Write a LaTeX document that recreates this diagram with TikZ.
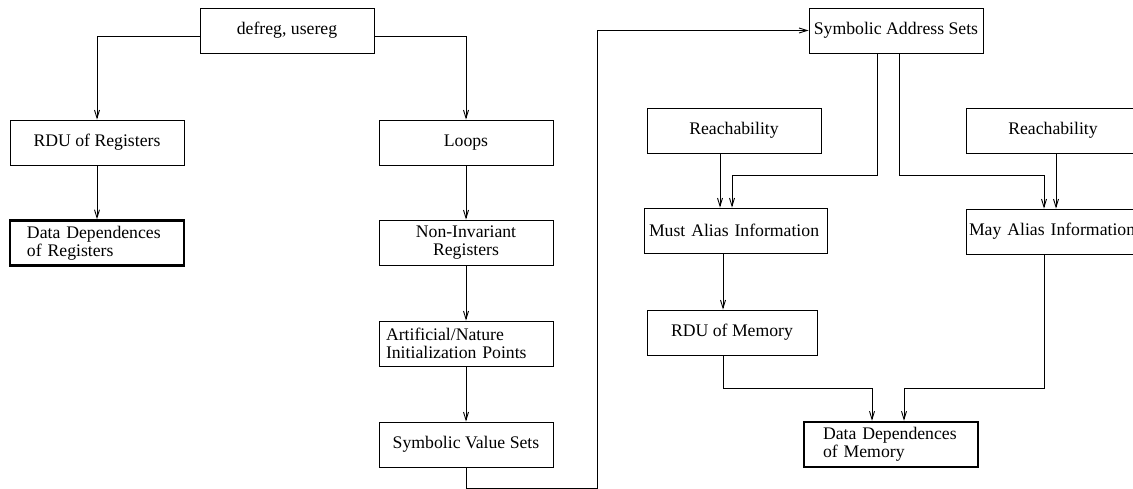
\documentclass[tikz,border=0pt]{standalone}
\usepackage{fontspec}
\setmainfont{Liberation Serif}
\usetikzlibrary{arrows.meta}
\tikzset{every picture/.style={line width=0.9pt}}

\begin{document}
\begin{tikzpicture}[x=1pt,y=1pt,yscale=-1,xscale=1,
  box/.style={draw, minimum width=174, minimum height=45, inner sep=0.75pt, align=center, font=\fontsize{17.7}{17.7}\selectfont},
  leftbox/.style={box, align=left, text width=#1},
  heavy/.style={line width=2.5pt},
  arr/.style={-{Straight Barb[length=8pt,width=5pt]}}]
\useasboundingbox (0,0) rectangle (1133,489);

%Shape: Rectangles, register side
\node [box] (defreg) at (287,30.5) {defreg, usereg};
\node [box] (rduReg) at (97,142.5) {RDU of Registers};
\node [leftbox=140, inner xsep=17, heavy] (ddReg) at (97,243) {Data Dependences\\of Registers};
\node [box] (loops) at (466,142.5) {Loops};
\node [box] (nonInv) at (466,242.5) {Non-Invariant\\Registers};
\node [leftbox=160, inner xsep=7] (initPts) at (466,343.5) {Artificial/Nature\\Initialization Points};
\node [box] (valSets) at (466,444.5) {Symbolic Value Sets};

%Shape: Rectangles, memory side
\node [box] (addrSets) at (896,30.5) {Symbolic Address Sets};
\node [box] (reachA) at (734,130.5) {Reachability};
\node [leftbox=173, inner xsep=5] (mustAlias) at (735.5,230.5) {Must Alias Information};
\node [box] (reachB) at (1053,130.5) {Reachability};
\node [leftbox=177, inner xsep=3] (mayAlias) at (1057.5,231.5) {May Alias Information};
\node [box, minimum width=170] (rduMem) at (732,332.5) {RDU of Memory};
\node [leftbox=136, inner xsep=18, heavy] (ddMem) at (891,444.5) {Data Dependences\\of Memory};

%Bend points
\coordinate (loopBack) at (597,488);
\coordinate (mustBend) at (732,175);
\coordinate (mayBend) at (1044,175);
\coordinate (memJoin) at (0,388);
\coordinate (reachAOut) at ([xshift=-14pt]reachA.south);
\coordinate (memIn) at ([xshift=-9pt]rduMem.north);
\coordinate (ddIn1) at ([xshift=-19pt]ddMem.north);
\coordinate (ddIn2) at ([xshift=13pt]ddMem.north);

%Straight Lines, register side
\draw [arr] ([yshift=5.5pt]defreg.west) -| (rduReg.north);
\draw [arr] ([yshift=5.5pt]defreg.east) -| (loops.north);
\draw [arr] (rduReg) -- (ddReg);
\draw [arr] (loops) -- (nonInv);
\draw [arr] (nonInv) -- (initPts);
\draw [arr] (initPts) -- (valSets);
\draw [arr] (valSets.south) |- (loopBack) |- (addrSets.west);

%Straight Lines, memory side
\draw [arr] ([xshift=-19pt]addrSets.south) |- (mustBend) -- (mustBend |- mustAlias.north);
\draw [arr] ([xshift=3pt]addrSets.south) |- (mayBend) -- (mayBend |- mayAlias.north);
\draw [arr] (reachAOut) -- (reachAOut |- mustAlias.north);
\draw [arr] ([xshift=3pt]reachB.south) -- ([xshift=3pt]reachB.south |- mayAlias.north);
\draw [arr] (mustAlias.south -| memIn) -- (memIn);
\draw [arr] (rduMem.south -| memIn) |- (memJoin -| ddIn1) -- (ddIn1);
\draw [arr] (mayAlias.south -| mayBend) |- (memJoin -| ddIn2) -- (ddIn2);
\end{tikzpicture}
\end{document}
